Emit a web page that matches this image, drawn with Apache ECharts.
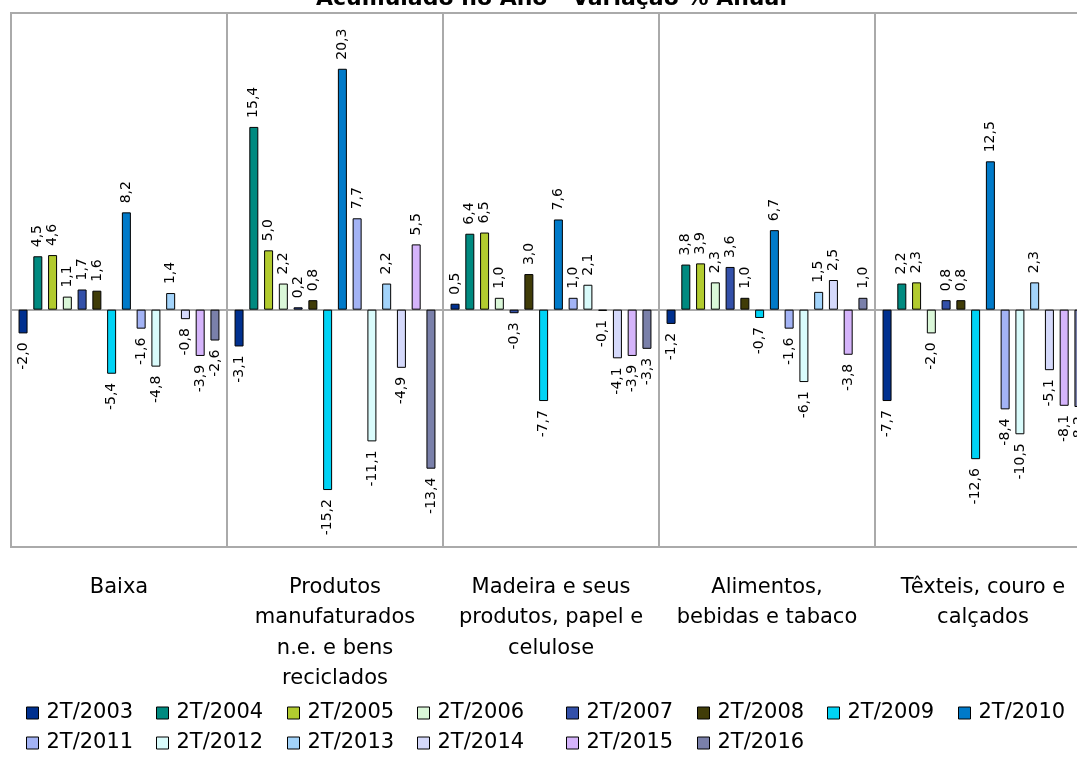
<!DOCTYPE html>
<html>
<head>
<meta charset="utf-8">
<script src="https://cdn.jsdelivr.net/npm/echarts@6/dist/echarts.min.js"></script>
<style>
  html, body { margin: 0; padding: 0; background: #fff; overflow: hidden; }
  #chart { width: 1100px; height: 760px; }
</style>
</head>
<body>
<div id="chart"></div>
<script>
/* categorias */
var categorias = [
    'Baixa',
    'Produtos\nmanufaturados\nn.e. e bens\nreciclados',
    'Madeira e seus\nprodutos, papel e\ncelulose',
    'Alimentos,\nbebidas e tabaco',
    'Têxteis, couro e\ncalçados'
];
var periodos = ['2T/2003', '2T/2004', '2T/2005', '2T/2006', '2T/2007', '2T/2008', '2T/2009',
    '2T/2010', '2T/2011', '2T/2012', '2T/2013', '2T/2014', '2T/2015', '2T/2016'];

/* variação % anual, um valor por período */
var baixa     = [-2.0, 4.5, 4.6, 1.1, 1.7, 1.6, -5.4, 8.2, -1.6, -4.8, 1.4, -0.8, -3.9, -2.6];
var produtos  = [-3.1, 15.4, 5.0, 2.2, 0.2, 0.8, -15.2, 20.3, 7.7, -11.1, 2.2, -4.9, 5.5, -13.4];
var madeira   = [0.5, 6.4, 6.5, 1.0, -0.3, 3.0, -7.7, 7.6, 1.0, 2.1, -0.1, -4.1, -3.9, -3.3];
var alimentos = [-1.2, 3.8, 3.9, 2.3, 3.6, 1.0, -0.7, 6.7, -1.6, -6.1, 1.5, 2.5, -3.8, 1.0];
var texteis   = [-7.7, 2.2, 2.3, -2.0, 0.8, 0.8, -12.6, 12.5, -8.4, -10.5, 2.3, -5.1, -8.1, -8.2];
var linhas = [baixa, produtos, madeira, alimentos, texteis];

var cores = ['#00308f', '#008a80', '#b2cb2f', '#daf7d8', '#3350a9', '#403c08', '#00d3f5',
    '#007ac9', '#a3b3f5', '#d9fbfb', '#a3d4fb', '#d5d9fb', '#d5b4fb', '#7a80aa'];

var fonte = 'DejaVu Sans';
var myChart = echarts.init(document.getElementById('chart'));

var series = periodos.map(function (nome, i) {
    return {
        name: nome,
        type: 'bar',
        barWidth: 9,
        barGap: '64%',
        itemStyle: { color: cores[i], borderColor: '#000', borderWidth: 1 },
        label: {
            show: true,
            rotate: 90,
            distance: 9,
            fontFamily: fonte,
            fontSize: 14,
            color: '#000',
            formatter: function (p) { return p.value.toFixed(1).replace('.', ','); }
        },
        data: linhas.map(function (l) {
            var v = l[i];
            return {
                value: v,
                label: v < 0
                    ? { position: 'bottom', align: 'right', verticalAlign: 'middle' }
                    : { position: 'top', align: 'left', verticalAlign: 'middle' }
            };
        })
    };
});

/* legenda em colunas */
var colunasX = [26, 156, 287, 417, 566, 697, 827, 958];
var legendas = colunasX.map(function (x, c) {
    var itens = [periodos[c]];
    if (periodos[c + 8]) itens.push(periodos[c + 8]);
    return {
        data: itens,
        orient: 'vertical',
        left: x,
        top: 701,
        icon: 'rect',
        itemWidth: 12,
        itemHeight: 12,
        itemGap: 6,
        padding: 0,
        itemStyle: { borderColor: '#000', borderWidth: 1 },
        textStyle: { fontFamily: fonte, fontSize: 21, lineHeight: 24, color: '#000', padding: [0, 0, 0, 3] }
    };
});

var option = {
    animation: false,
    title: {
        text: 'Acumulado no Ano - Variação % Anual',
        left: 316,
        top: -12,
        padding: 0,
        textStyle: { fontFamily: fonte, fontSize: 22, fontWeight: 'bold', lineHeight: 22, color: '#000' }
    },
    legend: legendas,
    grid: {
        left: 11,
        right: 9,
        top: 13,
        bottom: 213,
        show: true,
        borderColor: '#aaa',
        borderWidth: 2
    },
    xAxis: [
        {
            type: 'category',
            data: categorias,
            axisLine: { show: true, onZero: true, lineStyle: { color: '#aaa', width: 2 } },
            axisTick: { show: false },
            axisLabel: { show: false },
            splitLine: { show: true, interval: 0, lineStyle: { color: '#aaa', width: 2 } }
        },
        {
            type: 'category',
            data: categorias,
            position: 'bottom',
            axisLine: { show: false, onZero: false },
            axisTick: { show: false },
            splitLine: { show: false },
            axisLabel: {
                interval: 0,
                margin: 25,
                fontFamily: fonte,
                fontSize: 21,
                lineHeight: 30.5,
                color: '#000',
                align: 'center'
            }
        }
    ],
    yAxis: {
        type: 'value',
        min: -20,
        max: 25,
        show: false,
        splitLine: { show: false }
    },
    series: series
};
myChart.setOption(option);
</script>
</body>
</html>
